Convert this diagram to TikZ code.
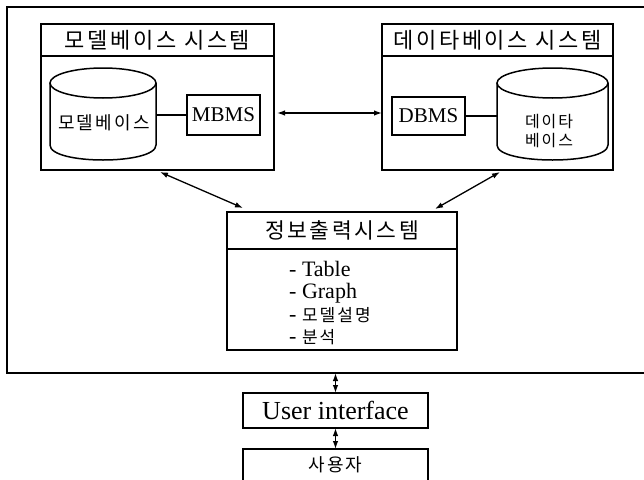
\documentclass[tikz,border=0pt]{standalone}
\usepackage{fontspec}
\setmainfont{Liberation Serif}
\newfontfamily\kr[LetterSpace=12]{Noto Sans CJK KR}
\usetikzlibrary{positioning,arrows.meta}

\begin{document}
\begin{tikzpicture}[x=1pt,y=-1pt,
  box/.style={draw,line width=1.5pt,inner sep=0pt,outer sep=0pt},
  cylbox/.style={inner sep=0pt,outer sep=0pt},
  link/.style={line width=1.3pt,{Latex[length=8pt,width=5.5pt]}-{Latex[length=8pt,width=5.5pt]}}]
\path[use as bounding box] (0,0) rectangle (644,479);
\node[box,anchor=north west,minimum width=641,minimum height=366] (outer) at (7,7) {};
% model base system
\node[box,minimum width=233,minimum height=32,font=\kr\fontsize{22}{24}\selectfont] (mstitle) at (157.5,40) {모델베이스 시스템};
\node[box,below=0pt of mstitle,minimum width=233,minimum height=114] (msbody) {};
\node[cylbox,minimum width=106,minimum height=92] (mscyl) at (103,114) {};
\draw[line width=1.5pt] ([yshift=-15pt]mscyl.north) ellipse [x radius=53pt,y radius=15pt];
\draw[line width=1.5pt] ([yshift=-15pt]mscyl.north west) -- ([yshift=15pt]mscyl.south west)
  .. controls ([yshift=-5pt]mscyl.south west) and ([yshift=-5pt]mscyl.south east) .. ([yshift=15pt]mscyl.south east)
  -- ([yshift=-15pt]mscyl.north east);
\node[inner sep=0pt,font=\kr\fontsize{18}{20}\selectfont] (mstext) at (104,123) {모델베이스};
\node[box,minimum width=73,minimum height=40,font=\fontsize{21}{24}\selectfont] (mbms) at (223.5,115) {MBMS};
\draw[line width=1.5pt] (mbms.west) -- (mbms.west -| mscyl.east);
% data base system
\node[box,minimum width=231,minimum height=32,font=\kr\fontsize{22}{24}\selectfont] (dbtitle) at (497.5,40) {데이타베이스 시스템};
\node[box,below=0pt of dbtitle,minimum width=231,minimum height=114] (dbbody) {};
\node[cylbox,minimum width=111,minimum height=92] (dbcyl) at (552.5,114) {};
\draw[line width=1.5pt] ([yshift=-15pt]dbcyl.north) ellipse [x radius=55.5pt,y radius=15pt];
\draw[line width=1.5pt] ([yshift=-15pt]dbcyl.north west) -- ([yshift=15pt]dbcyl.south west)
  .. controls ([yshift=-5pt]dbcyl.south west) and ([yshift=-5pt]dbcyl.south east) .. ([yshift=15pt]dbcyl.south east)
  -- ([yshift=-15pt]dbcyl.north east);
\node[inner sep=0pt,align=center,font=\kr\fontsize{16}{19}\selectfont] (dbtext) at (549,131) {데이타\\베이스};
\node[box,minimum width=73,minimum height=38,font=\fontsize{21}{24}\selectfont] (dbms) at (428.5,116) {DBMS};
\draw[line width=1.5pt] (dbms.east) -- (dbms.east -| dbcyl.west);
% information output system
\node[box,minimum width=230,minimum height=37,font=\kr\fontsize{21.5}{24}\selectfont] (infotitle) at (342,230.5) {정보출력시스템};
\node[box,below=0pt of infotitle,minimum width=230,minimum height=101] (infobody) {};
\node[anchor=base west,inner sep=0pt,font=\fontsize{22}{24}\selectfont] (table) at (289,276) {- Table};
\node[anchor=base west,inner sep=0pt,font=\fontsize{22}{24}\selectfont] (graph) at (289,298.5) {- Graph};
\node[anchor=base west,inner sep=0pt,font=\fontsize{22}{24}\selectfont] (model) at (289,321) {- {\kr\fontsize{17}{19}\selectfont 모델설명}};
\node[anchor=base west,inner sep=0pt,font=\fontsize{22}{24}\selectfont] (anal) at (289,343.5) {- {\kr\fontsize{17}{19}\selectfont 분석}};
% user side
\node[box,minimum width=185,minimum height=35,font=\fontsize{26}{28}\selectfont] (ui) at (335.5,410.5) {User interface};
\node[box,minimum width=185,minimum height=32,font=\kr\fontsize{18}{20}\selectfont] (user) at (335.5,465) {사용자};
% connectors
\draw[link,shorten <=3pt] (msbody.east) -- (dbbody.west);
\draw[link] ([xshift=2.5pt,yshift=-2pt]msbody.south) -- ([xshift=16pt,yshift=4pt]infotitle.north west);
\draw[link] ([xshift=2.5pt,yshift=-2pt]dbbody.south) -- ([xshift=-22pt,yshift=3pt]infotitle.north east);
\coordinate (obot) at (ui.north |- outer.south);
\draw[link] (obot) -- (ui.north);
\draw[link] (ui.south) -- (user.north);
\end{tikzpicture}
\end{document}
